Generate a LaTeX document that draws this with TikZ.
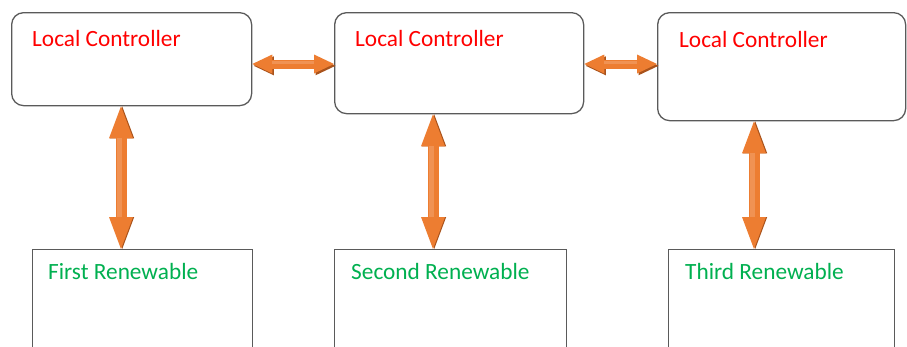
\documentclass[tikz,border=0pt]{standalone}
\usepackage{fontspec}
\setmainfont{Carlito}
\usetikzlibrary{arrows.meta}
\definecolor{ctrlred}{HTML}{FF0000}
\definecolor{rengreen}{HTML}{00B050}
\definecolor{arroworange}{HTML}{ED7D31}
\definecolor{arrowdark}{HTML}{A9531C}
\definecolor{arrowlight}{HTML}{F2A06A}
\definecolor{boxgray}{HTML}{5A5A5A}
\begin{document}
\begin{tikzpicture}[x=1pt,y=-1pt,
  ctrlbox/.style={draw=boxgray, line width=1.3pt, rounded corners=12pt,
    fill=white, inner sep=0pt, anchor=north west},
  renbox/.style={draw=boxgray, line width=1.3pt, fill=white,
    inner sep=0pt, anchor=north west},
  ctrltext/.style={text=ctrlred, font=\fontsize{23.3}{27}\selectfont,
    anchor=base west, inner sep=0pt},
  rentext/.style={text=rengreen, font=\fontsize{23.3}{27}\selectfont,
    anchor=base west, inner sep=0pt},
  hconn/.style={draw=arroworange, line width=9pt,
    {Triangle[width=19pt,length=20pt,line width=0pt]}-{Triangle[width=19pt,length=20pt,line width=0pt]},
    preaction={draw=arrowdark, transform canvas={shift={(1.5pt,-1.8pt)}}},
    postaction={draw=arrowlight, line width=3pt, arrows=-, opacity=0.6,
      shorten <=20pt, shorten >=20pt, transform canvas={shift={(0pt,1.5pt)}}}},
  vconn/.style={draw=arroworange, line width=11pt,
    {Triangle[width=24pt,length=32pt,line width=0pt]}-{Triangle[width=24pt,length=32pt,line width=0pt]},
    preaction={draw=arrowdark, transform canvas={shift={(1.2pt,0pt)}}},
    postaction={draw=arrowlight, line width=5pt, arrows=-, opacity=0.6,
      shorten <=32pt, shorten >=32pt, transform canvas={shift={(-2pt,0pt)}}}}
]
\useasboundingbox (0,0) rectangle (907,346);
\clip (0,0) rectangle (907,346);

% controller boxes
\node[ctrlbox, minimum width=240pt, minimum height=93pt] (ctrl1) at (11,12) {};
\node[ctrlbox, minimum width=249pt, minimum height=101pt] (ctrl2) at (334,12) {};
\node[ctrlbox, minimum width=248pt, minimum height=108pt] (ctrl3) at (657,12) {};

% renewable boxes (run past the lower edge)
\node[renbox, minimum width=220pt, minimum height=110pt] (ren1) at (32,249) {};
\node[renbox, minimum width=232pt, minimum height=110pt] (ren2) at (334,249) {};
\node[renbox, minimum width=226pt, minimum height=110pt] (ren3) at (668,249) {};

% captions
\node[ctrltext] (t1) at (32,46) {Local Controller};
\node[ctrltext] (t2) at (355,46) {Local Controller};
\node[ctrltext] (t3) at (679,47) {Local Controller};
\node[rentext] (t4) at (48,279) {First Renewable};
\node[rentext] (t5) at (351,279) {Second Renewable};
\node[rentext] (t6) at (685,279) {Third Renewable};

% connector levels
\coordinate (hrow) at (0,64);
\coordinate (v1) at (121,0);
\coordinate (v2) at (433,0);
\coordinate (v3) at (754,0);

% links between controllers
\draw[hconn] (ctrl1.east |- hrow) -- (ctrl2.west |- hrow);
\draw[hconn] (ctrl2.east |- hrow) -- (ctrl3.west |- hrow);

% links from controllers to renewables
\draw[vconn] (ctrl1.south -| v1) -- (ren1.north -| v1);
\draw[vconn] (ctrl2.south -| v2) -- (ren2.north -| v2);
\draw[vconn] (ctrl3.south -| v3) -- (ren3.north -| v3);
\end{tikzpicture}
\end{document}
